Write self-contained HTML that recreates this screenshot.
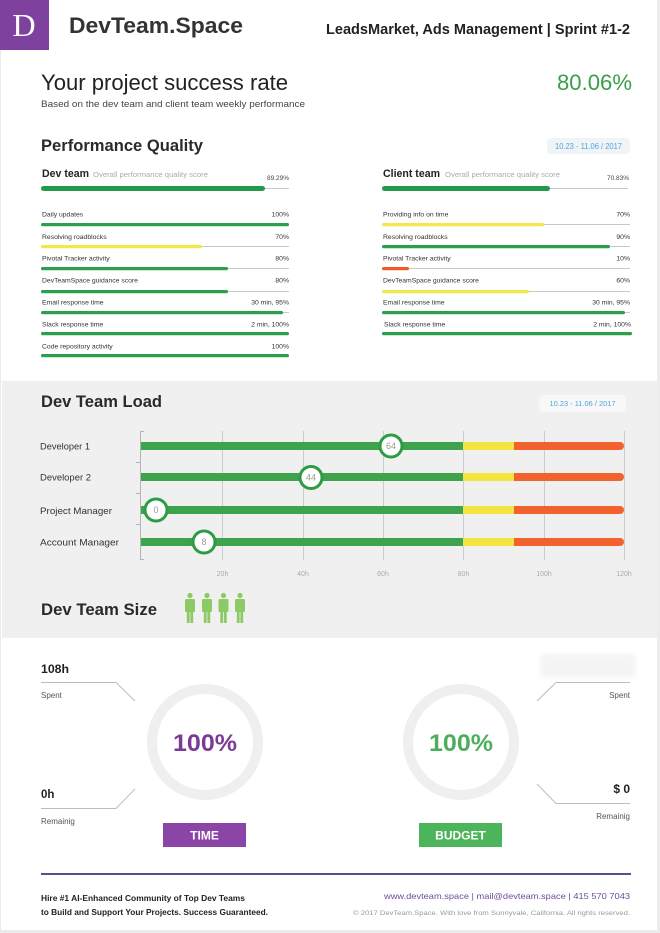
<!DOCTYPE html>
<html><head><meta charset="utf-8"><style>
html,body{margin:0;padding:0;background:#ececec;}
svg{display:block;}
text{font-family:"Liberation Sans",Arial,sans-serif;}
</style></head><body>
<svg width="660" height="933" viewBox="0 0 660 933" xmlns="http://www.w3.org/2000/svg">
<defs><filter id="bl" x="-20%" y="-50%" width="140%" height="200%"><feGaussianBlur stdDeviation="2.5"/></filter></defs>
<rect x="0" y="0" width="660" height="933" fill="#ececec"/>
<rect x="1" y="0" width="656" height="930" fill="#ffffff"/>

<!-- Header -->
<rect x="0" y="0" width="49" height="50" fill="#7f419e"/>
<text x="24" y="36" font-size="32" fill="#fff" text-anchor="middle" style="font-family:'Liberation Serif',serif">D</text>
<text x="69" y="33" font-size="22" font-weight="bold" fill="#333" textLength="174" lengthAdjust="spacingAndGlyphs">DevTeam.Space</text>
<text x="326" y="34" font-size="15" font-weight="bold" fill="#222" textLength="304" lengthAdjust="spacingAndGlyphs">LeadsMarket, Ads Management | Sprint #1-2</text>

<text x="41" y="90" font-size="22" fill="#222" textLength="247" lengthAdjust="spacingAndGlyphs">Your project success rate</text>
<text x="41" y="107" font-size="9.5" fill="#444" textLength="264" lengthAdjust="spacingAndGlyphs">Based on the dev team and client team weekly performance</text>
<text x="557" y="90" font-size="22" fill="#3a9e4a" textLength="75" lengthAdjust="spacingAndGlyphs">80.06%</text>

<!-- Performance Quality -->
<text x="41" y="151" font-size="17" font-weight="bold" fill="#2a2a2a" textLength="162" lengthAdjust="spacingAndGlyphs">Performance Quality</text>
<rect x="547" y="138" width="83" height="16" rx="4" fill="#f1f4f7"/>
<text x="588.5" y="149" font-size="8" fill="#4aa8d8" text-anchor="middle" textLength="67" lengthAdjust="spacingAndGlyphs">10.23 - 11.06 / 2017</text>

<!-- Dev team -->
<text x="42" y="177" font-size="11" font-weight="bold" fill="#222" textLength="47" lengthAdjust="spacingAndGlyphs">Dev team</text>
<text x="93" y="177" font-size="7.5" fill="#aaa" textLength="115" lengthAdjust="spacingAndGlyphs">Overall performance quality score</text>
<text x="289" y="180" font-size="6.5" fill="#444" text-anchor="end">89.29%</text>
<line x1="41" y1="188.5" x2="289" y2="188.5" stroke="#c8c8c8" stroke-width="1"/>
<rect x="41" y="186" width="224" height="5" rx="2.5" fill="#23994a"/>

<g font-size="6.8" fill="#333">
<text x="42" y="216.5">Daily updates</text>
<text x="42" y="239">Resolving roadblocks</text>
<text x="42" y="260.5">Pivotal Tracker activity</text>
<text x="42" y="282.5">DevTeamSpace guidance score</text>
<text x="42" y="304.5">Email response time</text>
<text x="42" y="326.5">Slack response time</text>
<text x="42" y="348.5">Code repository activity</text>
<g text-anchor="end">
<text x="289" y="216.5">100%</text>
<text x="289" y="239">70%</text>
<text x="289" y="260.5">80%</text>
<text x="289" y="282.5">80%</text>
<text x="289" y="304.5">30 min, 95%</text>
<text x="289" y="326.5">2 min, 100%</text>
<text x="289" y="348.5">100%</text>
</g>
</g>
<g stroke="#c8c8c8" stroke-width="1">
<line x1="41" y1="224.5" x2="289" y2="224.5"/>
<line x1="41" y1="246.5" x2="289" y2="246.5"/>
<line x1="41" y1="268.5" x2="289" y2="268.5"/>
<line x1="41" y1="291.5" x2="289" y2="291.5"/>
<line x1="41" y1="312.5" x2="289" y2="312.5"/>
<line x1="41" y1="333.5" x2="289" y2="333.5"/>
<line x1="41" y1="355.5" x2="289" y2="355.5"/>
</g>
<rect x="41" y="223" width="248" height="3.2" rx="1.6" fill="#2c9f4b"/>
<rect x="41" y="245" width="161" height="3.2" rx="1.6" fill="#f2e84a"/>
<rect x="41" y="267" width="187" height="3.2" rx="1.6" fill="#2c9f4b"/>
<rect x="41" y="290" width="187" height="3.2" rx="1.6" fill="#2c9f4b"/>
<rect x="41" y="311" width="242" height="3.2" rx="1.6" fill="#2c9f4b"/>
<rect x="41" y="332" width="248" height="3.2" rx="1.6" fill="#2c9f4b"/>
<rect x="41" y="354" width="248" height="3.2" rx="1.6" fill="#2c9f4b"/>

<!-- Client team -->
<text x="383" y="177" font-size="11" font-weight="bold" fill="#222" textLength="57" lengthAdjust="spacingAndGlyphs">Client team</text>
<text x="445" y="177" font-size="7.5" fill="#aaa" textLength="115" lengthAdjust="spacingAndGlyphs">Overall performance quality score</text>
<text x="629" y="180" font-size="6.5" fill="#444" text-anchor="end">70.83%</text>
<line x1="382" y1="188.5" x2="628" y2="188.5" stroke="#c8c8c8" stroke-width="1"/>
<rect x="382" y="186" width="168" height="5" rx="2.5" fill="#23994a"/>

<g font-size="6.8" fill="#333">
<text x="383" y="216.5">Providing info on time</text>
<text x="383" y="239">Resolving roadblocks</text>
<text x="383" y="260.5">Pivotal Tracker activity</text>
<text x="383" y="282.5">DevTeamSpace guidance score</text>
<text x="383" y="304.5">Email response time</text>
<text x="384" y="326.5">Slack response time</text>
<g text-anchor="end">
<text x="630" y="216.5">70%</text>
<text x="630" y="239">90%</text>
<text x="630" y="260.5">10%</text>
<text x="630" y="282.5">60%</text>
<text x="630" y="304.5">30 min, 95%</text>
<text x="631" y="326.5">2 min, 100%</text>
</g>
</g>
<g stroke="#c8c8c8" stroke-width="1">
<line x1="382" y1="224.5" x2="630" y2="224.5"/>
<line x1="382" y1="246.5" x2="630" y2="246.5"/>
<line x1="382" y1="268.5" x2="630" y2="268.5"/>
<line x1="382" y1="291.5" x2="630" y2="291.5"/>
<line x1="382" y1="312.5" x2="630" y2="312.5"/>
<line x1="382" y1="333.5" x2="632" y2="333.5"/>
</g>
<rect x="382" y="223" width="162" height="3.2" rx="1.6" fill="#f2e84a"/>
<rect x="382" y="245" width="228" height="3.2" rx="1.6" fill="#2c9f4b"/>
<rect x="382" y="267" width="27" height="3.2" rx="1.6" fill="#ef5a2a"/>
<rect x="382" y="290" width="147" height="3.2" rx="1.6" fill="#f2e84a"/>
<rect x="382" y="311" width="243" height="3.2" rx="1.6" fill="#2c9f4b"/>
<rect x="382" y="332" width="250" height="3.2" rx="1.6" fill="#2c9f4b"/>

<!-- Dev Team Load section -->
<rect x="2" y="381" width="655" height="257" fill="#f0f0f0"/>
<text x="41" y="407" font-size="17" font-weight="bold" fill="#2a2a2a" textLength="121" lengthAdjust="spacingAndGlyphs">Dev Team Load</text>
<rect x="539" y="395" width="87" height="17" rx="5" fill="#f8f8f8"/>
<text x="582.5" y="406" font-size="7.5" fill="#4aa8d8" text-anchor="middle" textLength="66" lengthAdjust="spacingAndGlyphs">10.23 - 11.06 / 2017</text>

<g stroke="#cccccc" stroke-width="1">
<line x1="222.5" y1="431" x2="222.5" y2="560"/>
<line x1="303.5" y1="431" x2="303.5" y2="560"/>
<line x1="383.5" y1="431" x2="383.5" y2="560"/>
<line x1="463.5" y1="431" x2="463.5" y2="560"/>
<line x1="544.5" y1="431" x2="544.5" y2="560"/>
<line x1="624.5" y1="431" x2="624.5" y2="560"/>
</g>
<g stroke="#b5b5b5" stroke-width="1" fill="none">
<polyline points="144,431.5 140.5,431.5 140.5,559.5 144,559.5"/>
<line x1="136" y1="462.5" x2="140" y2="462.5"/>
<line x1="136" y1="493.5" x2="140" y2="493.5"/>
<line x1="136" y1="524.5" x2="140" y2="524.5"/>
</g>

<g font-size="9.5" fill="#333">
<text x="40" y="449.5" textLength="50" lengthAdjust="spacingAndGlyphs">Developer 1</text>
<text x="40" y="480.5" textLength="51" lengthAdjust="spacingAndGlyphs">Developer 2</text>
<text x="40" y="514" textLength="72" lengthAdjust="spacingAndGlyphs">Project Manager</text>
<text x="40" y="545.5" textLength="79" lengthAdjust="spacingAndGlyphs">Account Manager</text>
</g>

<g>
<rect x="141" y="442" width="322" height="8" fill="#3ea34c"/><rect x="463" y="442" width="51" height="8" fill="#f3e43f"/><path d="M514 442 H620 a4 4 0 0 1 0 8 H514 Z" fill="#f1622f"/>
<rect x="141" y="473" width="322" height="8" fill="#3ea34c"/><rect x="463" y="473" width="51" height="8" fill="#f3e43f"/><path d="M514 473 H620 a4 4 0 0 1 0 8 H514 Z" fill="#f1622f"/>
<rect x="141" y="506" width="322" height="8" fill="#3ea34c"/><rect x="463" y="506" width="51" height="8" fill="#f3e43f"/><path d="M514 506 H620 a4 4 0 0 1 0 8 H514 Z" fill="#f1622f"/>
<rect x="141" y="538" width="322" height="8" fill="#3ea34c"/><rect x="463" y="538" width="51" height="8" fill="#f3e43f"/><path d="M514 538 H620 a4 4 0 0 1 0 8 H514 Z" fill="#f1622f"/>
</g>
<g fill="#fff" stroke="#2e9b45" stroke-width="3">
<circle cx="391" cy="446" r="11"/>
<circle cx="311" cy="477.5" r="11"/>
<circle cx="156" cy="510" r="11"/>
<circle cx="204" cy="542" r="11"/>
</g>
<g font-size="9" fill="#999" text-anchor="middle">
<text x="391" y="449.2">64</text>
<text x="311" y="480.7">44</text>
<text x="156" y="513.2">0</text>
<text x="204" y="545.2">8</text>
</g>
<g font-size="7" fill="#aaa" text-anchor="middle">
<text x="222.5" y="576">20h</text>
<text x="303" y="576">40h</text>
<text x="383" y="576">60h</text>
<text x="463.5" y="576">80h</text>
<text x="544" y="576">100h</text>
<text x="624" y="576">120h</text>
</g>

<text x="41" y="615" font-size="17" font-weight="bold" fill="#2a2a2a" textLength="116" lengthAdjust="spacingAndGlyphs">Dev Team Size</text>
<g fill="#8dc965">
<g transform="translate(185,0)"><circle cx="5" cy="595.5" r="2.6"/><rect x="0" y="599" width="10" height="13" rx="1.5"/><rect x="1.8" y="610" width="2.8" height="13"/><rect x="5.4" y="610" width="2.8" height="13"/></g>
<g transform="translate(202,0)"><circle cx="5" cy="595.5" r="2.6"/><rect x="0" y="599" width="10" height="13" rx="1.5"/><rect x="1.8" y="610" width="2.8" height="13"/><rect x="5.4" y="610" width="2.8" height="13"/></g>
<g transform="translate(218.5,0)"><circle cx="5" cy="595.5" r="2.6"/><rect x="0" y="599" width="10" height="13" rx="1.5"/><rect x="1.8" y="610" width="2.8" height="13"/><rect x="5.4" y="610" width="2.8" height="13"/></g>
<g transform="translate(235,0)"><circle cx="5" cy="595.5" r="2.6"/><rect x="0" y="599" width="10" height="13" rx="1.5"/><rect x="1.8" y="610" width="2.8" height="13"/><rect x="5.4" y="610" width="2.8" height="13"/></g>
</g>

<!-- Time / Budget -->
<text x="41" y="673" font-size="11.5" font-weight="bold" fill="#222" textLength="28" lengthAdjust="spacingAndGlyphs">108h</text>
<text x="41" y="698" font-size="8" fill="#555">Spent</text>
<polyline points="41,682.5 116,682.5 135,701" fill="none" stroke="#bdbdbd" stroke-width="1"/>
<text x="41" y="798" font-size="11.5" font-weight="bold" fill="#222">0h</text>
<polyline points="41,808.5 116,808.5 135,789" fill="none" stroke="#bdbdbd" stroke-width="1"/>
<text x="41" y="824" font-size="8" fill="#555">Remainig</text>

<circle cx="205" cy="742" r="53" fill="none" stroke="#efefef" stroke-width="10"/>
<text x="205" y="751" font-size="24" font-weight="bold" fill="#7b3a96" text-anchor="middle" textLength="64" lengthAdjust="spacingAndGlyphs">100%</text>
<rect x="163" y="823" width="83" height="24" fill="#8b45a6"/>
<text x="204.5" y="839.5" font-size="12" font-weight="bold" fill="#fff" text-anchor="middle">TIME</text>

<circle cx="461" cy="742" r="53" fill="none" stroke="#efefef" stroke-width="10"/>
<text x="461" y="751" font-size="24" font-weight="bold" fill="#4cae5a" text-anchor="middle" textLength="64" lengthAdjust="spacingAndGlyphs">100%</text>
<rect x="419" y="823" width="83" height="24" fill="#4cb45a"/>
<text x="460.5" y="839.5" font-size="12" font-weight="bold" fill="#fff" text-anchor="middle">BUDGET</text>

<rect x="541" y="654" width="94" height="23" fill="#f4f4f4" filter="url(#bl)"/>
<polyline points="537,701 556,682.5 630,682.5" fill="none" stroke="#bdbdbd" stroke-width="1"/>
<text x="630" y="698" font-size="8" fill="#555" text-anchor="end">Spent</text>
<text x="630" y="793" font-size="12" font-weight="bold" fill="#222" text-anchor="end">$ 0</text>
<polyline points="537,784 556,803.5 630,803.5" fill="none" stroke="#bdbdbd" stroke-width="1"/>
<text x="630" y="819" font-size="8" fill="#555" text-anchor="end">Remainig</text>

<!-- Footer -->
<rect x="41" y="873" width="590" height="2" fill="#5d4a88"/>
<text x="41" y="901" font-size="8.5" font-weight="bold" fill="#222" textLength="204" lengthAdjust="spacingAndGlyphs">Hire #1 AI-Enhanced Community of Top Dev Teams</text>
<text x="41" y="915" font-size="8.5" font-weight="bold" fill="#222" textLength="227" lengthAdjust="spacingAndGlyphs">to Build and Support Your Projects. Success Guaranteed.</text>
<text x="630" y="899" font-size="8.5" fill="#6d4c9a" text-anchor="end" textLength="246" lengthAdjust="spacingAndGlyphs">www.devteam.space  |  mail@devteam.space  |  415 570 7043</text>
<text x="630" y="915" font-size="6.5" fill="#9a9a9a" text-anchor="end" textLength="277" lengthAdjust="spacingAndGlyphs">© 2017 DevTeam.Space. With love from Sunnyvale, California. All rights reserved.</text>
</svg>
</body></html>
